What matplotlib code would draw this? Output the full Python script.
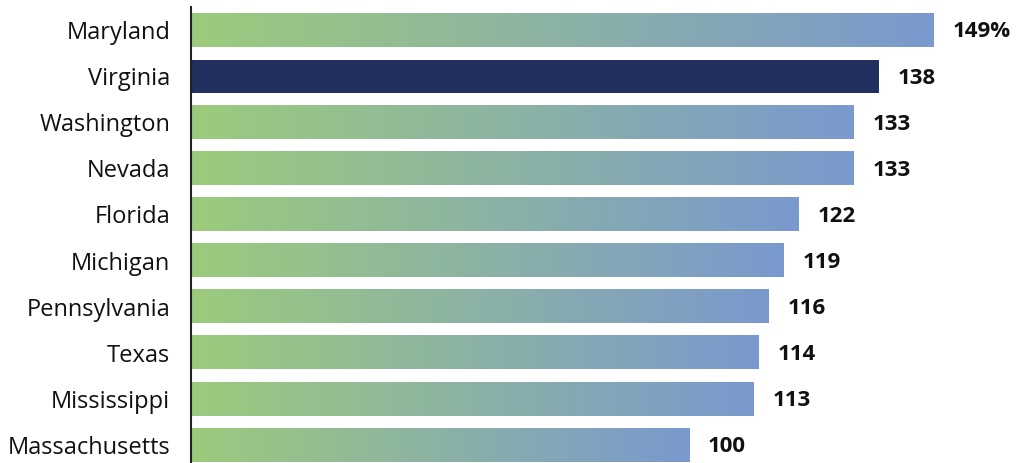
import numpy as np
import matplotlib
matplotlib.use("Agg")
import matplotlib.pyplot as plt
from matplotlib.colors import LinearSegmentedColormap

states = ["Maryland", "Virginia", "Washington", "Nevada", "Florida",
          "Michigan", "Pennsylvania", "Texas", "Mississippi", "Massachusetts"]
values = [149, 138, 133, 133, 122, 119, 116, 114, 113, 100]
value_labels = ["149%", "138", "133", "133", "122", "119", "116", "114", "113", "100"]
highlight = "Virginia"

plt.rcParams['font.family'] = ['Open Sans', 'DejaVu Sans']

fig = plt.figure(figsize=(10.23, 4.63), dpi=100)
ax = fig.add_axes([191/1023, 0, 1 - 191/1023, 1 - 7/463])

cmap = LinearSegmentedColormap.from_list("g2b", ["#9ccb7c", "#7a99ce"])
grad = np.linspace(0, 1, 256).reshape(1, -1)
h = 0.72
for i, (s, v, lab) in enumerate(zip(states, values, value_labels)):
    if s == highlight:
        ax.barh(i, v, height=h, color="#22305f", zorder=2)
    else:
        ax.imshow(grad, cmap=cmap, aspect='auto', interpolation='bilinear',
                  extent=[0, v, i + h/2, i - h/2], zorder=2)
    ax.text(v + 3.8, i + 0.04, lab, va='center', ha='left', fontsize=16,
            fontweight='bold', color='#111111')

ax.set_xlim(0, 167)
ax.set_ylim(9.39, -0.5)
ax.set_yticks(range(len(states)))
ax.set_yticklabels(states, fontsize=17, color='#111111')
ax.tick_params(axis='y', length=0, pad=15)
ax.set_xticks([])
for sp in ['top', 'right', 'bottom']:
    ax.spines[sp].set_visible(False)
ax.spines['left'].set_linewidth(1.5)
ax.spines['left'].set_color('#222222')

fig.savefig("out.png", dpi=100)
